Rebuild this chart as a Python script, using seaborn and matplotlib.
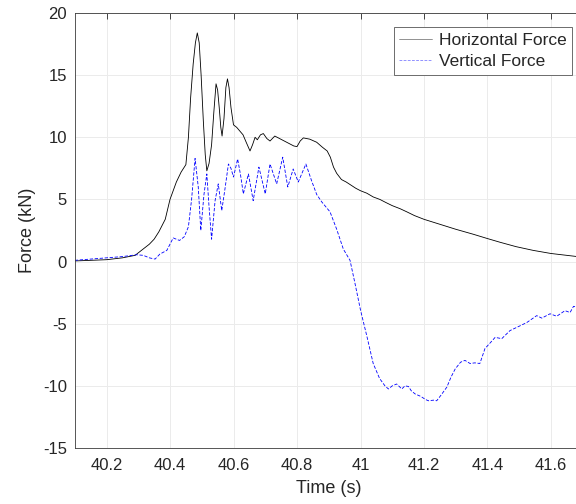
import numpy as np
import pandas as pd
import matplotlib
matplotlib.use("Agg")
import matplotlib.pyplot as plt
import seaborn as sns

# Horizontal force record (s, kN)
h_time = [40.10, 40.15, 40.20, 40.25, 40.29, 40.31, 40.335, 40.35, 40.365, 40.385,
          40.40, 40.42, 40.435, 40.45, 40.458, 40.465, 40.473, 40.48, 40.486, 40.492,
          40.498, 40.505, 40.511, 40.516, 40.523, 40.531, 40.538, 40.545, 40.55, 40.555,
          40.56, 40.564, 40.57, 40.576, 40.581, 40.586, 40.592, 40.60, 40.61, 40.62,
          40.63, 40.64, 40.652, 40.66, 40.668, 40.675, 40.685, 40.694, 40.705, 40.715,
          40.73, 40.745, 40.76, 40.775, 40.79, 40.80, 40.81, 40.82, 40.84, 40.862,
          40.88, 40.895, 40.905, 40.915, 40.925, 40.94, 40.955, 40.967, 40.985, 41.00,
          41.02, 41.04, 41.061, 41.08, 41.10, 41.125, 41.146, 41.17, 41.20, 41.25,
          41.30, 41.355, 41.40, 41.44, 41.49, 41.544, 41.60, 41.65, 41.70]
h_force = [0.05, 0.10, 0.15, 0.30, 0.50, 0.90, 1.40, 1.80, 2.40, 3.40,
           5.00, 6.40, 7.20, 7.80, 10.0, 13.2, 15.9, 17.6, 18.4, 17.6,
           15.0, 11.3, 8.6, 7.3, 7.9, 9.4, 12.0, 14.3, 13.8, 12.4,
           10.8, 10.1, 11.5, 14.0, 14.7, 14.0, 12.4, 11.0, 10.8, 10.5,
           10.2, 9.6, 8.9, 9.4, 10.0, 9.8, 10.2, 10.3, 9.9, 9.7,
           10.1, 9.9, 9.7, 9.5, 9.3, 9.25, 9.7, 9.95, 9.85, 9.6,
           9.2, 8.9, 8.4, 7.6, 7.1, 6.6, 6.4, 6.2, 5.9, 5.7,
           5.5, 5.2, 5.0, 4.75, 4.5, 4.25, 4.0, 3.7, 3.4, 3.0,
           2.6, 2.2, 1.85, 1.55, 1.2, 0.9, 0.65, 0.5, 0.35]

# Vertical force record (s, kN)
v_time = [40.10, 40.15, 40.20, 40.25, 40.295, 40.316, 40.335, 40.353, 40.368, 40.39,
          40.41, 40.43, 40.445, 40.458, 40.468, 40.479, 40.489, 40.497, 40.507, 40.516,
          40.523, 40.531, 40.542, 40.552, 40.563, 40.574, 40.584, 40.592, 40.60, 40.613,
          40.622, 40.631, 40.647, 40.662, 40.68, 40.70, 40.715, 40.736, 40.755, 40.771,
          40.788, 40.804, 40.828, 40.846, 40.862, 40.878, 40.904, 40.925, 40.946, 40.967,
          40.983, 41.00, 41.02, 41.04, 41.06, 41.077, 41.088, 41.10, 41.114, 41.13,
          41.14, 41.151, 41.16, 41.172, 41.19, 41.205, 41.214, 41.23, 41.24, 41.255,
          41.272, 41.285, 41.298, 41.315, 41.329, 41.345, 41.36, 41.376, 41.392, 41.41,
          41.424, 41.445, 41.471, 41.50, 41.524, 41.555, 41.571, 41.597, 41.618, 41.644,
          41.66, 41.671, 41.685, 41.70]
v_force = [0.10, 0.20, 0.30, 0.40, 0.55, 0.50, 0.30, 0.20, 0.60, 0.90,
           1.90, 1.70, 2.00, 2.80, 5.00, 8.30, 6.00, 2.50, 5.40, 7.05,
           4.40, 1.80, 4.90, 6.25, 4.10, 6.00, 7.85, 7.50, 6.80, 8.25,
           7.00, 5.45, 7.05, 4.90, 7.60, 5.45, 7.85, 6.25, 8.40, 6.00,
           7.45, 6.40, 7.85, 6.50, 5.40, 4.80, 4.00, 2.60, 1.00, 0.10,
           -1.80, -3.90, -6.00, -8.20, -9.40, -10.0, -10.25, -10.0, -9.85, -10.25,
           -10.0, -10.05, -10.4, -10.65, -10.85, -11.1, -11.2, -11.15, -11.2, -10.7,
           -10.1, -9.3, -8.65, -8.1, -7.95, -8.2, -8.15, -8.2, -7.0, -6.5,
           -6.1, -6.2, -5.55, -5.2, -4.9, -4.35, -4.55, -4.2, -4.4, -3.95,
           -4.1, -3.6, -3.7, -3.5]

series_names = ["Horizontal Force", "Vertical Force"]
x_ticks = [40.2, 40.4, 40.6, 40.8, 41.0, 41.2, 41.4, 41.6]
x_tick_labels = ["40.2", "40.4", "40.6", "40.8", "41", "41.2", "41.4", "41.6"]
y_ticks = [-15, -10, -5, 0, 5, 10, 15, 20]

df = pd.concat([
    pd.DataFrame({"Time": h_time, "Force": h_force, "Series": series_names[0]}),
    pd.DataFrame({"Time": v_time, "Force": v_force, "Series": series_names[1]}),
], ignore_index=True)

sns.set_theme(style="white")
plt.rcParams["font.family"] = ["Liberation Sans", "DejaVu Sans"]
plt.rcParams["axes.unicode_minus"] = False

fig = plt.figure(figsize=(5.76, 5.04), dpi=100)
ax = fig.add_axes([74.75 / 576, 56 / 504, 508 / 576, 435 / 504])

sns.lineplot(
    data=df, x="Time", y="Force", hue="Series", style="Series",
    palette={series_names[0]: "#000000", series_names[1]: "#0000ff"},
    dashes={series_names[0]: "", series_names[1]: (4, 2)},
    estimator=None, sort=False, linewidth=0.6, ax=ax, legend=True,
)

ax.set_xlim(40.1, 41.7)
ax.set_ylim(-15, 20)
ax.set_xticks(x_ticks)
ax.set_xticklabels(x_tick_labels)
ax.set_yticks(y_ticks)

ink = "#262626"
ax.grid(True, color="#ebebeb", linewidth=0.7)
ax.set_axisbelow(True)
for s in ax.spines.values():
    s.set_color("#3a3a3a")
    s.set_linewidth(0.6)
ax.tick_params(axis="both", direction="in", length=4, width=0.6, colors=ink,
               labelsize=12, top=True, right=True)
ax.tick_params(axis="x", pad=7.5)
ax.tick_params(axis="y", pad=5.5)
ax.set_xlabel("Time (s)", fontsize=13, color=ink, labelpad=4.5)
ax.set_ylabel("Force (kN)", fontsize=13, color=ink, labelpad=5)

handles, labels = ax.get_legend_handles_labels()
leg = ax.legend(
    handles, labels, loc="upper right", bbox_to_anchor=(0.979, 0.967),
    fontsize=12.5, frameon=True, fancybox=False, framealpha=1,
    edgecolor="#555555", handlelength=1.9, handletextpad=0.4,
    borderpad=0.3, labelspacing=0.38, borderaxespad=0,
)
leg.get_frame().set_linewidth(0.6)
for t in leg.get_texts():
    t.set_color(ink)
for line in leg.get_lines():
    line.set_linewidth(0.5)
    line.set_alpha(0.6)

fig.savefig("out.png", dpi=100)
